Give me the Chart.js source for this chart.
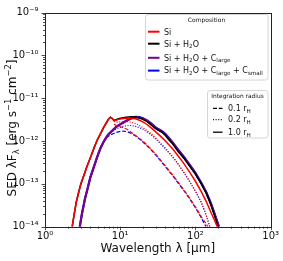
<!DOCTYPE html>
<html>
<head>
<meta charset="utf-8">
<script src="https://cdn.jsdelivr.net/npm/chart.js@4.4.1/dist/chart.umd.min.js"></script>
<style>
html,body{margin:0;padding:0;background:#fff;}
#wrap{position:relative;width:283px;height:261px;}
</style>
</head>
<body>
<div id="wrap"><canvas id="c" width="283" height="261"></canvas></div>
<script>
// ---------- data ----------
const compositions = ['Si', 'Si + H2O', 'Si + H2O + C_large', 'Si + H2O + C_large + C_small'];
const radii = ['0.1 r_H', '0.2 r_H', '1.0 r_H'];

const xTickValues = [1, 10, 100, 1000];
const xTickLabels = ['10⁰', '10¹', '10²', '10³'];
const yTickValues = [1e-14, 1e-13, 1e-12, 1e-11, 1e-10, 1e-9];
const yTickLabels = ['10⁻¹⁴', '10⁻¹³', '10⁻¹²', '10⁻¹¹', '10⁻¹⁰', '10⁻⁹'];

// Si, 1.0 r_H
const wlSiR10 = [2.3,2.45,2.6,2.8,3.0,3.3,3.6,4.0,4.5,5.0,5.5,6.0,6.5,7.0,7.4,7.8,8.3,8.8,9.5,10.5,12,14,16,18,20,23,26,29,32,36,40,45,50,60,70,85,100,120,140,160,180,195];
const sedSiR10 = [1e-14,2e-14,3.7e-14,6.3e-14,1e-13,1.6e-13,2.5e-13,4e-13,7e-13,1.1e-12,1.5e-12,2.05e-12,2.6e-12,3.25e-12,3.6e-12,3.35e-12,2.95e-12,3.05e-12,3.2e-12,3.3e-12,3.4e-12,3.4e-12,3.3e-12,3.05e-12,2.8e-12,2.4e-12,2.0e-12,1.7e-12,1.45e-12,1.2e-12,1.0e-12,8e-13,6.5e-13,4.3e-13,3.0e-13,1.8e-13,1.15e-13,6.5e-14,3.8e-14,2.2e-14,1.4e-14,1e-14];
// Si, 0.2 r_H
const wlSiR02 = [8.3,9,10,11,12.5,14,16,18,20,25,30,40,50,60,70,85,100,120,140,155];
const sedSiR02 = [2.85e-12,2.75e-12,2.8e-12,2.85e-12,2.85e-12,2.75e-12,2.55e-12,2.3e-12,2.05e-12,1.55e-12,1.15e-12,6.8e-13,4.3e-13,2.8e-13,1.9e-13,1.1e-13,6.8e-14,3.7e-14,1.8e-14,1e-14];
// Si, 0.1 r_H
const wlSiR01 = [8.3,9,10,11,12.5,14,16,18,20,25,30,40,50,60,70,85,100,120,140,146];
const sedSiR01 = [2.5e-12,2.25e-12,2.15e-12,2.05e-12,1.85e-12,1.6e-12,1.35e-12,1.15e-12,1.0e-12,6.8e-13,4.8e-13,2.6e-13,1.6e-13,1.05e-13,7.3e-14,4.5e-14,2.9e-14,1.7e-14,1.15e-14,1e-14];
// Si + H2O, 1.0 r_H
const wlH2oR10 = [2.3,2.45,2.6,2.8,3.0,3.3,3.6,4.0,4.5,5.0,5.5,6.0,6.5,7.0,7.4,7.8,8.3,8.8,9.5,10.5,12,14,16,18,20,23,26,29,32,36,40,45,50,60,70,85,100,120,140,160,180,200];
const sedH2oR10 = [1e-14,2e-14,3.7e-14,6.3e-14,1e-13,1.6e-13,2.5e-13,4e-13,7e-13,1.1e-12,1.5e-12,2.05e-12,2.6e-12,3.25e-12,3.6e-12,3.4e-12,3.0e-12,3.15e-12,3.3e-12,3.45e-12,3.6e-12,3.7e-12,3.65e-12,3.45e-12,3.2e-12,2.8e-12,2.35e-12,2.0e-12,1.8e-12,1.6e-12,1.35e-12,1.05e-12,8.5e-13,5.5e-13,4e-13,2.5e-13,1.7e-13,1.0e-13,6e-14,3.3e-14,1.8e-14,1e-14];
// Si + H2O + C_large, 1.0 r_H
const wlClR10 = [2.9,3.1,3.4,3.7,4.0,4.5,5.0,5.5,6.0,6.5,7.0,8.0,9.0,10,11,12.5,14,16,18,20,23,26,29,32,36,40,45,50,60,70,85,100,120,140,160,180,205];
const sedClR10 = [1e-14,2e-14,4.5e-14,8e-14,1.4e-13,2.6e-13,4.5e-13,7e-13,9.5e-13,1.2e-12,1.45e-12,1.8e-12,2.2e-12,2.45e-12,2.7e-12,3.05e-12,3.35e-12,3.6e-12,3.55e-12,3.35e-12,2.95e-12,2.5e-12,2.1e-12,1.85e-12,1.65e-12,1.4e-12,1.12e-12,9e-13,5.9e-13,4.2e-13,2.65e-13,1.75e-13,1.02e-13,6.1e-14,3.5e-14,1.95e-14,1e-14];
// Si + H2O + C_large + C_small, 1.0 r_H
const wlCsR10 = [2.9,3.1,3.4,3.7,4.0,4.5,5.0,5.5,6.0,6.5,7.0,8.0,9.0,10,11,12.5,14,16,18,20,23,26,29,32,36,40,45,50,60,70,85,100,120,140,160,180,205];
const sedCsR10 = [1e-14,2e-14,4.5e-14,8e-14,1.4e-13,2.6e-13,4.5e-13,7e-13,9.5e-13,1.2e-12,1.45e-12,1.8e-12,2.2e-12,2.45e-12,2.7e-12,3.1e-12,3.4e-12,3.65e-12,3.6e-12,3.4e-12,3.0e-12,2.55e-12,2.15e-12,1.9e-12,1.7e-12,1.45e-12,1.15e-12,9.2e-13,6e-13,4.3e-13,2.7e-13,1.8e-13,1.05e-13,6.3e-14,3.6e-14,2e-14,1e-14];
// Si + H2O + C_large + C_small, 0.2 r_H
const wlCsR02 = [7.5,8.5,10,11,12.5,14,16,18,20,25,30,40,50,60,70,85,100,120,140,155];
const sedCsR02 = [1.6e-12,1.85e-12,2.1e-12,2.2e-12,2.3e-12,2.3e-12,2.2e-12,2.05e-12,1.9e-12,1.45e-12,1.1e-12,6.5e-13,4.2e-13,2.75e-13,1.85e-13,1.08e-13,6.7e-14,3.6e-14,1.8e-14,1e-14];
// Si + H2O + C_large + C_small, 0.1 r_H
const wlCsR01 = [6.5,7.5,8.5,10,11,12.5,14,16,18,20,25,30,40,50,60,70,85,100,120,138];
const sedCsR01 = [1.2e-12,1.4e-12,1.55e-12,1.68e-12,1.7e-12,1.65e-12,1.5e-12,1.32e-12,1.12e-12,9.5e-13,6.6e-13,4.6e-13,2.5e-13,1.55e-13,1.0e-13,7e-14,4.3e-14,2.8e-14,1.6e-14,1e-14];

// ---------- styling ----------
const colRed = '#ff0000', colBlack = '#000000', colPurple = '#800080', colBlue = '#0000ff';
const compColors = [colRed, colBlack, colPurple, colBlue];
const DASH = [4, 1.8], DOT = [1, 1.6];
const FONT = "'DejaVu Sans', 'Liberation Sans', sans-serif";

function zip(xs, ys) { return xs.map((x, i) => ({x: x, y: ys[i]})); }
function ds(xs, ys, color, width, dash) {
  return {data: zip(xs, ys), borderColor: color, backgroundColor: color, borderWidth: width,
          borderDash: dash || [], pointRadius: 0, tension: 0, fill: false};
}

const datasets = [
  ds(wlSiR10, sedSiR10, colRed, 1.5),
  ds(wlSiR02, sedSiR02, colRed, 1.2, DOT),
  ds(wlSiR01, sedSiR01, colRed, 1.2, DASH),
  ds(wlH2oR10, sedH2oR10, colBlack, 1.6),
  ds(wlClR10, sedClR10, colPurple, 2),
  ds(wlCsR10, sedCsR10, colBlue, 2.2),
  ds(wlCsR02, sedCsR02, colBlue, 1.2, DOT),
  ds(wlCsR01, sedCsR01, colBlue, 1.2, DASH)
];

function isMajor(v) { const l = Math.log10(v); return Math.abs(l - Math.round(l)) < 1e-6; }
function withMinor(majors) {
  const out = [];
  for (let i = 0; i < majors.length; i++) {
    out.push(majors[i]);
    if (i < majors.length - 1) for (let m = 2; m <= 9; m++) out.push(majors[i] * m);
  }
  return out;
}
function labelFor(values, labels, v) {
  for (let i = 0; i < values.length; i++) if (Math.abs(Math.log10(values[i]) - Math.log10(v)) < 1e-6) return labels[i];
  return '';
}

// rich text: segments [text, mode] mode 0 normal, -1 sub, 1 sup
function richWidth(ctx, segs, size) {
  let w = 0;
  for (const [t, m] of segs) { ctx.font = (m ? size * 0.7 : size) + 'px ' + FONT; w += ctx.measureText(t).width; }
  return w;
}
function drawRich(ctx, segs, x, y, size, align, color) {
  const w = richWidth(ctx, segs, size);
  let cx = align === 'center' ? x - w / 2 : x;
  ctx.fillStyle = color || '#111';
  ctx.textBaseline = 'alphabetic';
  ctx.textAlign = 'left';
  const base = y + size * 0.36;
  for (const [t, m] of segs) {
    const s = m ? size * 0.7 : size;
    ctx.font = s + 'px ' + FONT;
    const dy = m === -1 ? size * 0.22 : (m === 1 ? -size * 0.42 : 0);
    ctx.fillText(t, cx, base + dy);
    cx += ctx.measureText(t).width;
  }
}
function roundRect(ctx, x, y, w, h, r) {
  ctx.beginPath();
  ctx.moveTo(x + r, y); ctx.lineTo(x + w - r, y); ctx.quadraticCurveTo(x + w, y, x + w, y + r);
  ctx.lineTo(x + w, y + h - r); ctx.quadraticCurveTo(x + w, y + h, x + w - r, y + h);
  ctx.lineTo(x + r, y + h); ctx.quadraticCurveTo(x, y + h, x, y + h - r);
  ctx.lineTo(x, y + r); ctx.quadraticCurveTo(x, y, x + r, y); ctx.closePath();
}

const compLegendText = [
  [['Si', 0]],
  [['Si + H', 0], ['2', -1], ['O', 0]],
  [['Si + H', 0], ['2', -1], ['O + C', 0], ['large', -1]],
  [['Si + H', 0], ['2', -1], ['O + C', 0], ['large', -1], [' + C', 0], ['small', -1]]
];
const radLegendText = [
  [['0.1 r', 0], ['H', -1]],
  [['0.2 r', 0], ['H', -1]],
  [['1.0 r', 0], ['H', -1]]
];
const radDashes = [DASH, DOT, []];

const decorPlugin = {
  id: 'decor',
  afterDraw(chart) {
    const ctx = chart.ctx, a = chart.chartArea;
    const xs = chart.scales.x, ys = chart.scales.y;
    ctx.save();
    // ticks
    ctx.strokeStyle = '#222'; ctx.lineWidth = 0.8;
    for (const t of ys.ticks) {
      const py = Math.round(ys.getPixelForValue(t.value)) + 0.5;
      const L = isMajor(t.value) ? 3.5 : 2;
      ctx.beginPath(); ctx.moveTo(a.left - L, py); ctx.lineTo(a.left, py); ctx.stroke();
    }
    for (const t of xs.ticks) {
      const px = Math.round(xs.getPixelForValue(t.value)) + 0.5;
      const L = isMajor(t.value) ? 3.5 : 2;
      ctx.beginPath(); ctx.moveTo(px, a.bottom); ctx.lineTo(px, a.bottom + L); ctx.stroke();
    }
    // frame
    ctx.lineWidth = 1; ctx.strokeStyle = '#222';
    ctx.strokeRect(Math.round(a.left) + 0.5, Math.round(a.top) + 0.5, Math.round(a.right - a.left), Math.round(a.bottom - a.top));
    // y title
    ctx.save();
    ctx.translate(12, 128);
    ctx.rotate(-Math.PI / 2);
    drawRich(ctx, [['SED λF', 0], ['λ', -1], [' [erg s', 0], ['−1', 1], [' cm', 0], ['−2', 1], [']', 0]], 0, 0, 12, 'center', '#111');
    ctx.restore();
    // composition legend
    ctx.lineWidth = 0.8; ctx.strokeStyle = '#cccccc'; ctx.fillStyle = 'rgba(255,255,255,0.85)';
    roundRect(ctx, 145.5, 14.5, 122.5, 65.5, 2.5); ctx.fill(); ctx.stroke();
    drawRich(ctx, [['Composition', 0]], 206.5, 20, 6, 'center', '#111');
    const cy = [31.7, 43.7, 57.8, 70.6];
    for (let i = 0; i < 4; i++) {
      ctx.strokeStyle = compColors[i]; ctx.lineWidth = 2; ctx.setLineDash([]);
      ctx.beginPath(); ctx.moveTo(148, cy[i]); ctx.lineTo(159.5, cy[i]); ctx.stroke();
      drawRich(ctx, compLegendText[i], 164, cy[i], 8, 'left', '#111');
    }
    // radius legend
    ctx.lineWidth = 0.8; ctx.strokeStyle = '#cccccc'; ctx.fillStyle = 'rgba(255,255,255,0.85)';
    roundRect(ctx, 207.5, 90.5, 60.5, 47.5, 2.5); ctx.fill(); ctx.stroke();
    drawRich(ctx, [['Integration radius', 0]], 237.5, 95.8, 5.9, 'center', '#111');
    const ry = [108.3, 119.6, 132.2];
    for (let i = 0; i < 3; i++) {
      ctx.strokeStyle = '#000'; ctx.lineWidth = 1.3; ctx.setLineDash(radDashes[i]);
      ctx.beginPath(); ctx.moveTo(213, ry[i]); ctx.lineTo(222.5, ry[i]); ctx.stroke();
      ctx.setLineDash([]);
      drawRich(ctx, radLegendText[i], 228, ry[i], 8, 'left', '#111');
    }
    ctx.restore();
  }
};

new Chart(document.getElementById('c'), {
  type: 'line',
  data: {datasets: datasets},
  options: {
    responsive: false, animation: false, devicePixelRatio: 1,
    layout: {padding: {top: 10.5, right: 11.5, left: 0, bottom: 0}},
    plugins: {legend: {display: false}, tooltip: {enabled: false}},
    scales: {
      x: {
        type: 'logarithmic', min: 1, max: 1000,
        afterBuildTicks: s => { s.ticks = withMinor(xTickValues).map(v => ({value: v})); },
        afterFit: s => { s.height = 34.3; },
        grid: {display: false, drawTicks: false},
        border: {display: false},
        ticks: {autoSkip: false, maxRotation: 0, padding: 4, color: '#111',
                font: {family: FONT, size: 10},
                callback: v => labelFor(xTickValues, xTickLabels, v)},
        title: {display: true, text: 'Wavelength λ [µm]', color: '#111',
                font: {family: FONT, size: 12}, padding: {top: 0, bottom: 5}}
      },
      y: {
        type: 'logarithmic', min: 1e-14, max: 1e-9,
        afterBuildTicks: s => { s.ticks = withMinor(yTickValues).map(v => ({value: v})); },
        afterFit: s => { s.width = 45; },
        grid: {display: false, drawTicks: false},
        border: {display: false},
        ticks: {autoSkip: false, padding: 6.5, color: '#111',
                font: {family: FONT, size: 10},
                callback: v => labelFor(yTickValues, yTickLabels, v)}
      }
    }
  },
  plugins: [decorPlugin]
});
</script>
</body>
</html>
